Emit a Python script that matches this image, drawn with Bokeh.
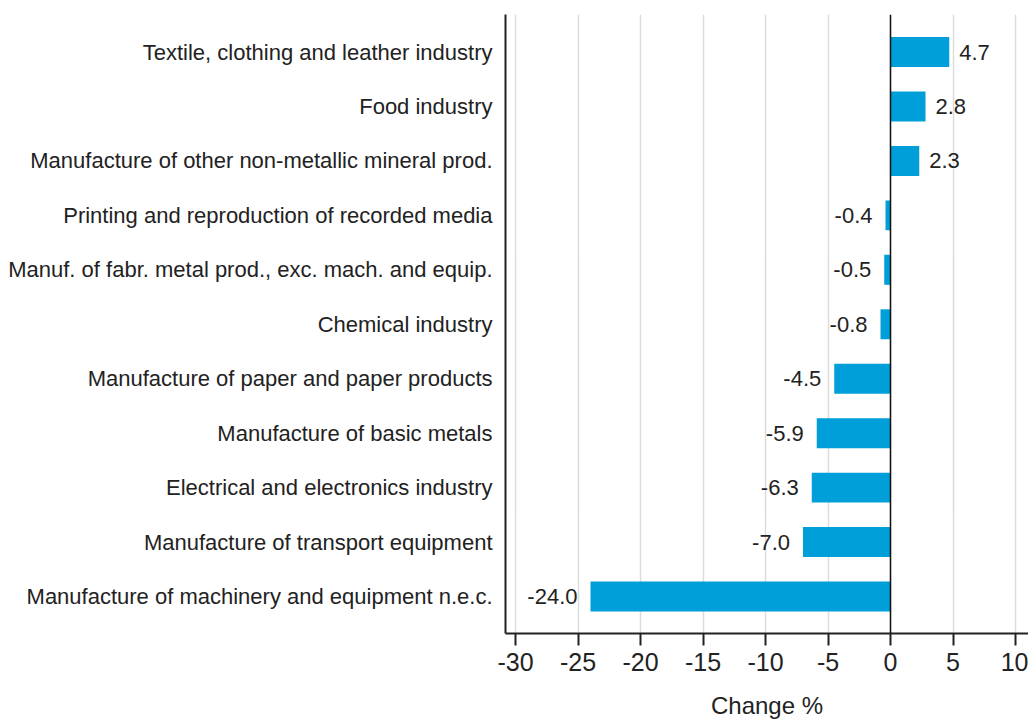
from bokeh.plotting import figure
from bokeh.models import ColumnDataSource, Range1d, FixedTicker, Span
from bokeh.core.properties import value
from bokeh.embed import file_html
from bokeh.resources import INLINE

categories = [
    "Textile, clothing and leather industry",
    "Food industry",
    "Manufacture of other non-metallic mineral prod.",
    "Printing and reproduction of recorded media",
    "Manuf. of fabr. metal prod., exc. mach. and equip.",
    "Chemical industry",
    "Manufacture of paper and paper products",
    "Manufacture of basic metals",
    "Electrical and electronics industry",
    "Manufacture of transport equipment",
    "Manufacture of machinery and equipment n.e.c.",
]
values = [4.7, 2.8, 2.3, -0.4, -0.5, -0.8, -4.5, -5.9, -6.3, -7.0, -24.0]
x_ticks = [-30, -25, -20, -15, -10, -5, 0, 5, 10]
x_tick_labels = ["-30", "-25", "-20", "-15", "-10", "-5", "0", "5", "10"]
x_label = "Change %"

FONT = "Liberation Sans"
n = len(categories)
ypos = [n - 1 - i for i in range(n)]

src = ColumnDataSource(dict(
    y=ypos,
    value=values,
    label=[f"{v:.1f}" for v in values],
    xoff=[10 if v >= 0 else -13 for v in values],
    align=["left" if v >= 0 else "right" for v in values],
))

p = figure(
    frame_width=523, frame_height=619,
    x_range=Range1d(-30.8, 11.04), y_range=Range1d(-0.68, n - 1 + 0.69),
    output_backend="svg", toolbar_location=None,
    min_border_left=505, min_border_right=0, min_border_top=14, min_border_bottom=88,
)
p.outline_line_color = None
p.background_fill_color = "white"

# grid
p.ygrid.grid_line_color = None
p.xgrid.ticker = FixedTicker(ticks=x_ticks)
p.xgrid.grid_line_color = "#dcdcdc"
p.xgrid.grid_line_width = 1.5

# x axis
xa = p.xaxis[0]
xa.ticker = FixedTicker(ticks=x_ticks)
xa.major_label_overrides = {t: s for t, s in zip(x_ticks, x_tick_labels)}
xa.axis_line_color = "#222222"
xa.axis_line_width = 2
xa.major_tick_line_color = "#222222"
xa.major_tick_line_width = 2
xa.major_tick_out = 12
xa.major_tick_in = 0
xa.minor_tick_line_color = None
xa.major_label_text_font = FONT
xa.major_label_text_font_size = "25px"
xa.major_label_text_color = "#222222"
xa.major_label_standoff = 7
xa.axis_label = x_label
xa.axis_label_text_font = FONT
xa.axis_label_text_font_style = "normal"
xa.axis_label_text_font_size = "24px"
xa.axis_label_text_color = "#222222"
xa.axis_label_standoff = 18

# y axis
ya = p.yaxis[0]
ya.ticker = FixedTicker(ticks=ypos)
ya.major_label_overrides = {y: c for y, c in zip(ypos, categories)}
ya.axis_line_color = "#222222"
ya.axis_line_width = 2
ya.major_tick_line_color = None
ya.minor_tick_line_color = None
ya.major_tick_out = 0
ya.major_tick_in = 0
ya.major_label_standoff = 13
ya.major_label_text_font = FONT
ya.major_label_text_font_size = "22px"
ya.major_label_text_color = "#222222"

p.hbar(y="y", left=0, right="value", height=0.55, source=src,
       fill_color="#009fda", line_color=None)

p.add_layout(Span(location=0, dimension="height", line_color="#111111", line_width=1.5))

p.text(x="value", y="y", text="label", x_offset="xoff", text_align="align",
       text_baseline="middle", text_font=value(FONT), text_font_size="22px",
       text_color="#222222", source=src)

open("out.html", "w").write(file_html(p, INLINE))
